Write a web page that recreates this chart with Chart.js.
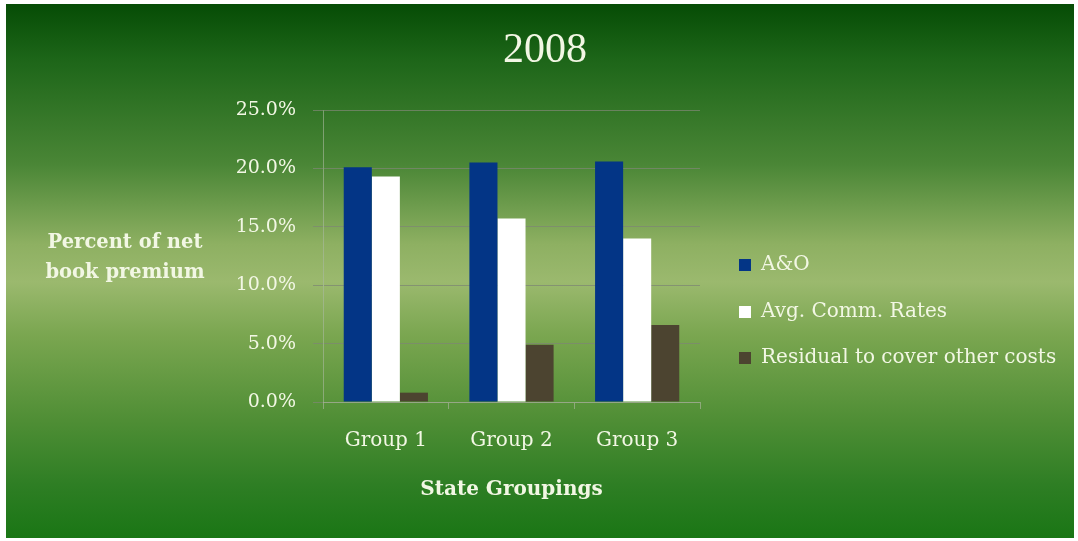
<!DOCTYPE html>
<html>
<head>
<meta charset="utf-8">
<script src="https://cdn.jsdelivr.net/npm/chart.js@4"></script>
<style>
    html, body { margin: 0; padding: 0; background: #ffffff; }
    #frame {
        position: absolute;
        left: 6px; top: 4px; right: 4px; bottom: 3px;
        background: linear-gradient(to bottom,
            #064c05 0%, #1c6518 10%, #4a8636 30%, #8eb062 45%, #9bb96e 52%,
            #7aa650 62%, #4f8e35 78%, #2e7e24 90%, #1a7615 100%);
    }
    #wrap { position: absolute; left: 0; top: 0; width: 1078px; height: 541px; }
</style>
</head>
<body>
<div id="frame"></div>
<div id="wrap"><canvas id="premiumChart" width="1078" height="541"></canvas></div>
<script>
    const categories = ['Group 1', 'Group 2', 'Group 3'];
    const seriesNames = ['A&O', 'Avg. Comm. Rates', 'Residual to cover other costs'];
    const aoValues = [20.1, 20.5, 20.6];
    const commValues = [19.3, 15.7, 14.0];
    const residualValues = [0.8, 4.9, 6.6];
    const yTickValues = [0, 5, 10, 15, 20, 25];

    const textColor = '#f2f7e4';
    const colors = ['#033586', '#ffffff', '#4c4430'];

    // title, horizontal y title and legend drawn on the canvas
    const textPlugin = {
        id: 'extraText',
        afterDraw(chart) {
            const ctx = chart.ctx;
            ctx.save();
            ctx.fillStyle = textColor;
            ctx.textBaseline = 'middle';

            ctx.textAlign = 'center';
            ctx.font = '42px "Liberation Serif"';
            ctx.fillText('2008', 545, 51);

            ctx.font = 'bold 19.5px "DejaVu Serif"';
            ctx.fillText('Percent of net', 125, 243);
            ctx.fillText('book premium', 125, 273);

            ctx.textAlign = 'left';
            ctx.font = '20px "DejaVu Serif"';
            const rows = [265, 312, 358];
            chart.data.datasets.forEach((ds, i) => {
                ctx.fillStyle = ds.backgroundColor;
                ctx.fillRect(739, rows[i] - 6, 12, 12);
                ctx.fillStyle = textColor;
                ctx.fillText(ds.label, 761, rows[i]);
            });
            ctx.restore();
        }
    };

    const ctx = document.getElementById('premiumChart').getContext('2d');
    const chart = new Chart(ctx, {
        type: 'bar',
        data: {
            labels: categories,
            datasets: [
                { label: seriesNames[0], data: aoValues, backgroundColor: colors[0] },
                { label: seriesNames[1], data: commValues, backgroundColor: colors[1] },
                { label: seriesNames[2], data: residualValues, backgroundColor: colors[2] }
            ]
        },
        options: {
            responsive: false,
            animation: false,
            layout: {
                padding: { left: 223, right: 378, top: 110, bottom: 0 }
            },
            datasets: {
                bar: { categoryPercentage: 0.67, barPercentage: 1.0 }
            },
            plugins: {
                legend: { display: false },
                title: { display: false },
                tooltip: { enabled: false }
            },
            scales: {
                x: {
                    grid: {
                        drawOnChartArea: false,
                        drawTicks: true,
                        tickLength: 7,
                        color: 'rgba(165,180,150,0.7)'
                    },
                    border: { display: true, color: 'rgba(165,180,150,0.7)' },
                    ticks: {
                        color: textColor,
                        font: { family: 'DejaVu Serif', size: 20 },
                        padding: 20
                    },
                    title: {
                        display: true,
                        text: 'State Groupings',
                        color: textColor,
                        font: { family: 'DejaVu Serif', size: 20, weight: 'bold' },
                        padding: { top: 0, bottom: 39 }
                    },
                    afterFit(scale) { scale.height = 139; }
                },
                y: {
                    min: 0,
                    max: 25,
                    afterBuildTicks(scale) {
                        scale.ticks = yTickValues.map(v => ({ value: v }));
                    },
                    grid: {
                        color: 'rgba(125,135,115,0.75)',
                        tickLength: 10
                    },
                    border: { display: true, color: 'rgba(170,185,160,0.6)' },
                    ticks: {
                        color: textColor,
                        font: { family: 'DejaVu Serif', size: 19 },
                        padding: 17,
                        callback: v => v.toFixed(1) + '%'
                    },
                    afterFit(scale) { scale.width = 100; }
                }
            }
        },
        plugins: [textPlugin]
    });
</script>
</body>
</html>
